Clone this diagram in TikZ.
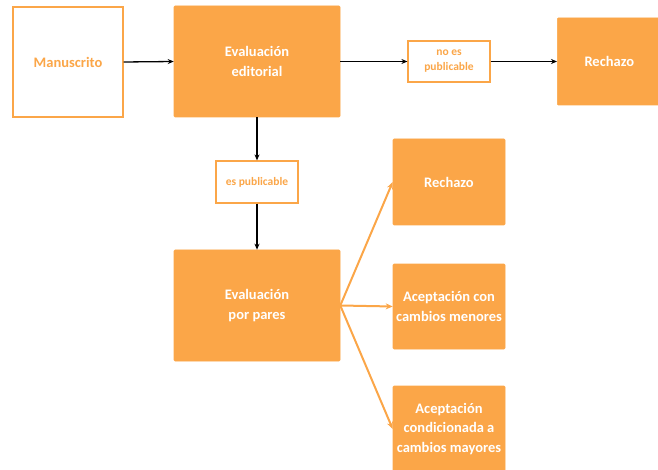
\documentclass[tikz,border=0pt]{standalone}
\usepackage{fontspec}
\setmainfont{Carlito}
\usetikzlibrary{arrows.meta}
\definecolor{orng}{RGB}{251,166,72}
\begin{document}
\begin{tikzpicture}[x=1pt,y=-1pt,
  fillbox/.style={fill=orng,draw=orng,line width=0.6pt,rounded corners=1pt,text=white,font=\bfseries\fontsize{14.5}{19.5}\selectfont,align=center,inner sep=0pt},
  whitebox/.style={fill=white,draw=orng,line width=1.2pt,text=orng,font=\bfseries\fontsize{14.5}{19.5}\selectfont,align=center,inner sep=0pt},
  labelbox/.style={fill=white,draw=orng,line width=1.2pt,text=orng,font=\bfseries\fontsize{11.5}{15}\selectfont,align=center,inner sep=0pt},
  blk/.style={draw=black,line width=1.3pt,-{Stealth[length=6pt,width=5pt]}},
  org/.style={draw=orng,line width=2pt,-{Stealth[length=7pt,width=6pt]}}]
\useasboundingbox (0,0) rectangle (658,470);
\begin{scope}
\clip (0,0) rectangle (658,470);
\node[whitebox,minimum width=110pt,minimum height=110pt] (man) at (68,62) {Manuscrito};
\node[fillbox,minimum width=166pt,minimum height=111pt] (ed) at (257,61.5) {Evaluación\\editorial};
\node[labelbox,minimum width=82pt,minimum height=41pt] (nopub) at (449,61.5) {no es\\publicable};
\node[fillbox,minimum width=104pt,minimum height=87pt,anchor=west,text width=88pt] (rech1) at (557,61.5) {Rechazo};
\node[labelbox,minimum width=82pt,minimum height=42pt] (pub) at (257,182) {es publicable};
\node[fillbox,minimum width=166pt,minimum height=111pt] (par) at (257,305.5) {Evaluación\\por pares};
\node[fillbox,minimum width=112pt,minimum height=86pt] (rech2) at (449,182) {Rechazo};
\node[fillbox,minimum width=112pt,minimum height=85pt] (acm) at (449,306.5) {Aceptación con\\cambios menores};
\node[fillbox,minimum width=112pt,minimum height=86pt] (acc) at (449,429) {Aceptación\\condicionada a\\cambios mayores};
\end{scope}
\draw[blk] (man.east) -- (ed.west);
\draw[blk] (ed.east) -- (nopub.west);
\draw[blk] (nopub.east) -- (rech1.west);
\draw[blk] (ed.south) -- (pub.north);
\draw[blk] (pub.south) -- (par.north);
\draw[org] (par.east) -- (rech2.west);
\draw[org] (par.east) -- (acm.west);
\draw[org] (par.east) -- (acc.west);
\end{tikzpicture}
\end{document}
